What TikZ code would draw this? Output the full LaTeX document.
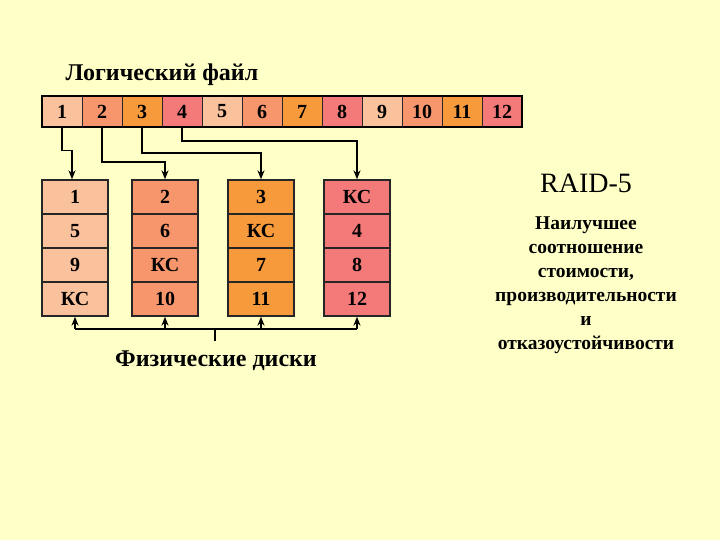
\documentclass[tikz,border=0pt]{standalone}
\usepackage{fontspec}
\setmainfont{Liberation Serif}
\usetikzlibrary{arrows.meta}
\definecolor{bg}{HTML}{FFFFC8}
\definecolor{ca}{HTML}{F9C29C}
\definecolor{cb}{HTML}{F7966C}
\definecolor{cc}{HTML}{F79A3C}
\definecolor{cd}{HTML}{F47A7A}
\tikzset{cell/.style={draw=black!85,line width=1pt,minimum width=40pt,minimum height=31pt,inner sep=0pt,font=\fontsize{20}{20}\selectfont\bfseries},
dcell/.style={draw=black!85,line width=1.3pt,minimum width=66pt,minimum height=34pt,inner sep=0pt},
dtxt/.style={font=\fontsize{20}{20}\selectfont\bfseries},
arr/.style={line width=1.5pt,-{Stealth[length=9pt,width=7pt]}},
ln/.style={line width=1.5pt}}
\begin{document}
\begin{tikzpicture}[x=1pt,y=-1pt]
\fill[bg] (0,0) rectangle (720,540);
\useasboundingbox (0,0) rectangle (720,540);
\node[font=\fontsize{24}{24}\selectfont\bfseries] (title) at (162,75) {Логический файл};
\foreach \i/\c in {1/ca,2/cb,3/cc,4/cd,5/ca,6/cb,7/cc,8/cd,9/ca,10/cb,11/cc,12/cd}{
  \node[cell,fill=\c] (l\i) at ({42+40*\i-20},111.5) {\i};}
\draw[line width=1.8pt] (42,96) rectangle (522,127);
% disks
\foreach \d/\x/\c in {1/75/ca,2/165/cb,3/261/cc,4/357/cd}{
  \foreach \r in {1,2,3,4}{
    \node[dcell,fill=\c] (d\d r\r) at (\x,{180+34*\r-17}) {};
  }
}
\node[dtxt] at (d1r1) {1};
\node[dtxt] at (d1r2) {5};
\node[dtxt] at (d1r3) {9};
\node[dtxt] at (d1r4) {КС};
\node[dtxt] at (d2r1) {2};
\node[dtxt] at (d2r2) {6};
\node[dtxt] at (d2r3) {КС};
\node[dtxt] at (d2r4) {10};
\node[dtxt] at (d3r1) {3};
\node[dtxt] at (d3r2) {КС};
\node[dtxt] at (d3r3) {7};
\node[dtxt] at (d3r4) {11};
\node[dtxt] at (d4r1) {КС};
\node[dtxt] at (d4r2) {4};
\node[dtxt] at (d4r3) {8};
\node[dtxt] at (d4r4) {12};
% arrows top
\draw[arr] (l1.south) -- ++(0,23) -| (d1r1.north -| 72,0);
\draw[arr] (l2.south) |- (165,162) -- (d2r1.north);
\draw[arr] (l3.south) |- (261,153) -- (d3r1.north);
\draw[arr] (l4.south) |- (357,141) -- (d4r1.north);
% bottom bracket
\coordinate (br) at (215,341);
\draw[ln] (75,329) -- (357,329);
\draw[ln] (215,329) -- (br);
\foreach \d in {1,2,3,4}{\draw[arr] (d\d r4.south |- 0,329) -- (d\d r4.south);}
\node[font=\fontsize{24}{24}\selectfont\bfseries] (phys) at (216,361) {Физические диски};
% right text
\node[font=\fontsize{28}{28}\selectfont] (raid) at (586,183) {RAID-5};
\node[font=\fontsize{19.5}{24}\selectfont\bfseries,align=center] (desc) at (586,285) {Наилучшее\\соотношение\\стоимости,\\производительности\\и\\отказоустойчивости};
\end{tikzpicture}
\end{document}
